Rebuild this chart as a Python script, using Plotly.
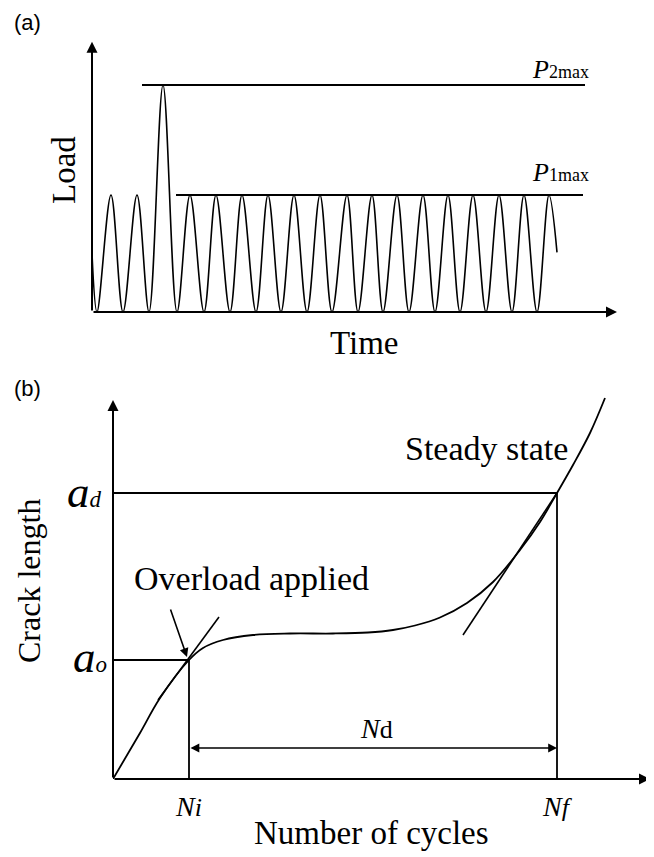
import plotly.graph_objects as go

# The page body has an 8px margin, so the figure is sized to fill the rest of the window.
PAGE_W, PAGE_H = 654, 857
OFF = 8
W, H = PAGE_W - OFF, PAGE_H - OFF
SERIF = "Liberation Serif, Times New Roman, serif"
SANS = "Liberation Sans, Arial, sans-serif"

# ---------------- Panel (a): load history (time in arbitrary units) ----------------
LOAD_START = (0, 0.50)
LOAD_END = (465, 0.51)
TROUGH_T = [5, 31, 57, 85, 112, 138, 164, 189, 215, 240, 266, 291, 317, 343, 368, 394, 420, 445]
PEAK_T = [19, 45, 71, 98, 124, 150, 176, 202, 228, 255, 280, 305, 331, 356, 381, 407, 432, 457]
PEAK_LOAD = [1.0, 1.0, 1.94, 1.0, 1.0, 1.0, 1.0, 1.0, 1.0, 1.0, 1.0, 1.0, 1.0, 1.0, 1.0, 1.0, 1.0, 1.0]
TROUGH_LOAD = 0.0
P1MAX = 1.0
P2MAX = 1.94
P1_LINE_T = [84, 491]
P2_LINE_T = [50, 493]
A_XTIP, A_YTIP = 525, 2.31

# ---------------- Panel (b): crack length vs cycles (arbitrary units) ----------------
CURVE_N = [0, 0.27, 0.47, 0.76, 0.90, 1.10, 1.40, 1.77, 2.20, 2.55, 2.80, 3.02, 3.27, 3.54, 3.80, 4.07, 4.27, 4.44, 4.60, 4.77, 4.92]
CURVE_A = [0, 0.46, 0.81, 1.19, 1.31, 1.39, 1.44, 1.455, 1.455, 1.465, 1.49, 1.535, 1.615, 1.76, 1.97, 2.29, 2.57, 2.86, 3.14, 3.46, 3.81]
N_I, N_F = 0.76, 4.44
A_O, A_D = 1.19, 2.86
TAN1_N, TAN1_A = [0.45, 1.06], [0.79, 1.62]
TAN2_N, TAN2_A = [3.50, 4.44], [1.44, 2.86]
ND_LEVEL = 0.31
B_XTIP, B_YTIP = 5.37, 3.79

# build load path from its extremes
lx, ly = [LOAD_START[0]], [LOAD_START[1]]
for tt, pt, pl in zip(TROUGH_T, PEAK_T, PEAK_LOAD):
    lx += [tt, pt]
    ly += [TROUGH_LOAD, pl]
lx.append(LOAD_END[0])
ly.append(LOAD_END[1])


def PX(px):
    return (px - OFF) / W


def PY(py):
    return 1 - (py - OFF) / H


fig = go.Figure()

fig.add_trace(go.Scatter(x=lx, y=ly, mode="lines", line=dict(color="black", width=1.6, shape="spline", smoothing=1.0),
                         xaxis="x", yaxis="y", hoverinfo="skip"))
fig.add_trace(go.Scatter(x=P2_LINE_T, y=[P2MAX, P2MAX], mode="lines", line=dict(color="black", width=1.8),
                         xaxis="x", yaxis="y", hoverinfo="skip"))
fig.add_trace(go.Scatter(x=P1_LINE_T, y=[P1MAX, P1MAX], mode="lines", line=dict(color="black", width=1.8),
                         xaxis="x", yaxis="y", hoverinfo="skip"))

fig.add_trace(go.Scatter(x=CURVE_N, y=CURVE_A, mode="lines", line=dict(color="black", width=1.8, shape="spline", smoothing=1.0),
                         xaxis="x2", yaxis="y2", hoverinfo="skip"))
fig.add_trace(go.Scatter(x=TAN1_N, y=TAN1_A, mode="lines", line=dict(color="black", width=1.6),
                         xaxis="x2", yaxis="y2", hoverinfo="skip"))
fig.add_trace(go.Scatter(x=TAN2_N, y=TAN2_A, mode="lines", line=dict(color="black", width=1.6),
                         xaxis="x2", yaxis="y2", hoverinfo="skip"))
fig.add_trace(go.Scatter(x=[0, N_I, N_I], y=[A_O, A_O, 0], mode="lines", line=dict(color="black", width=1.8),
                         xaxis="x2", yaxis="y2", hoverinfo="skip"))
fig.add_trace(go.Scatter(x=[0, N_F, N_F], y=[A_D, A_D, 0], mode="lines", line=dict(color="black", width=1.8),
                         xaxis="x2", yaxis="y2", hoverinfo="skip"))

ann = []


def arrow(x, y, ax, ay, xr, yr, width=2, size=1.0, head=2, side="end"):
    ann.append(dict(x=x, y=y, ax=ax, ay=ay, xref=xr, yref=yr, axref=xr, ayref=yr, text="",
                    showarrow=True, arrowhead=head, arrowsize=size, arrowwidth=width, arrowcolor="black",
                    arrowside=side, startarrowhead=head, startarrowsize=size))


arrow(A_XTIP, 0, 0, 0, "x", "y", width=2, size=1.1)
arrow(0, A_YTIP, 0, 0, "x", "y", width=2, size=1.1)
arrow(B_XTIP, 0, 0, 0, "x2", "y2", width=2, size=1.1)
arrow(0, B_YTIP, 0, 0, "x2", "y2", width=2, size=1.1)
arrow(N_F, ND_LEVEL, N_I, ND_LEVEL, "x2", "y2", width=1.6, size=1.1, side="end+start")
arrow(N_I - 0.02, A_O + 0.03, N_I - 0.19, A_O + 0.52, "x2", "y2", width=1.6, size=1.1)


def txt(s, px, py, size, font=SERIF, angle=0, xa="center", ya="middle"):
    ann.append(dict(text=s, x=PX(px), y=PY(py), xref="paper", yref="paper", showarrow=False,
                    xanchor=xa, yanchor=ya, textangle=angle, font=dict(family=font, size=size, color="black")))


def sm(s, size):
    return f'<span style="font-size:{size}px">{s}</span>'


txt("(a)", 27, 22, 22, font=SANS)
txt("(b)", 27, 388, 22, font=SANS)
txt("Load", 64, 170, 33, angle=-90)
txt("Time", 364, 343, 33)
txt("<i>P</i>" + sm("2max", 18), 560, 70, 26)
txt("<i>P</i>" + sm("1max", 18), 560, 172, 26)

txt("Crack length", 29, 581, 32, angle=-90)
txt("Number of cycles", 371, 833, 33)
txt("Overload applied", 251, 578, 34)
txt("Steady state", 486, 448, 34)
txt("<i>a</i>" + sm("<i>d</i>", 23), 84, 492, 45)
txt("<i>a</i>" + sm("<i>o</i>", 23), 90, 657, 45)
txt("<i>N</i>" + sm("<i>i</i>", 26), 188, 806, 28)
txt("<i>N</i>" + sm("<i>f</i>", 26), 557, 806, 28)
txt("<i>N</i>" + sm("d", 26), 376, 728, 28)

fig.update_layout(
    width=W, height=H, margin=dict(l=0, r=0, t=0, b=0),
    paper_bgcolor="white", plot_bgcolor="white", showlegend=False,
    xaxis=dict(domain=[PX(92), 1.0], range=[0, 562], visible=False, fixedrange=True),
    yaxis=dict(domain=[PY(312), PY(30)], range=[0, 282 / 117], visible=False, fixedrange=True),
    xaxis2=dict(domain=[PX(113), 1.0], range=[0, 5.41], visible=False, fixedrange=True, anchor="y2"),
    yaxis2=dict(domain=[PY(779), PY(370)], range=[0, 4.09], visible=False, fixedrange=True, anchor="x2"),
    annotations=ann,
)

fig.write_html("out.html")
